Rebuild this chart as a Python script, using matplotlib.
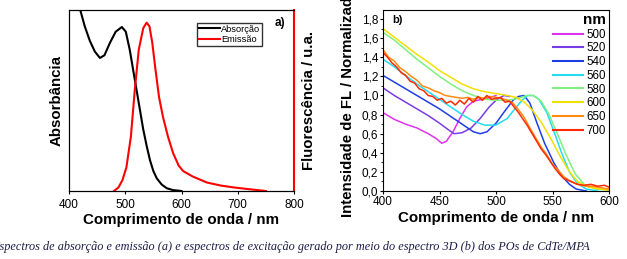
import matplotlib
matplotlib.use('Agg')
import matplotlib.pyplot as plt

plt.rcParams['font.family'] = ['Liberation Sans', 'DejaVu Sans']

# painel a) absorcao e emissao
abs_wl = [405, 412, 420, 428, 437, 446, 455, 463, 473, 483, 494, 501, 508, 514, 520, 526, 532, 538, 544, 550, 556, 565, 574, 585, 600]
abs_y = [1.25, 1.12, 1.0, 0.91, 0.83, 0.77, 0.735, 0.75, 0.82, 0.88, 0.906, 0.88, 0.78, 0.67, 0.56, 0.45, 0.34, 0.25, 0.17, 0.11, 0.07, 0.035, 0.015, 0.005, 0.0]
em_wl = [480, 488, 495, 502, 510, 517, 524, 532, 538, 543, 548, 553, 560, 567, 576, 585, 595, 603, 620, 645, 670, 692, 720, 750]
em_y = [0.0, 0.02, 0.06, 0.13, 0.3, 0.56, 0.78, 0.9, 0.93, 0.91, 0.82, 0.69, 0.52, 0.41, 0.3, 0.21, 0.14, 0.11, 0.08, 0.047, 0.03, 0.02, 0.01, 0.0]

# painel b) espectros de excitacao
exc_labels = ['500', '520', '540', '560', '580', '600', '650', '700']
exc_colors = ['#dd33ee', '#7a3ce6', '#1e3fe6', '#22dcf0', '#80f080', '#f2e000', '#ff8a10', '#ff2a00']
exc_wl = [
    [400, 410, 420, 430, 440, 447, 452, 456, 462, 468, 474, 480, 488, 495, 500],
    [400, 410, 420, 430, 440, 450, 458, 463, 470, 478, 486, 494, 500, 507, 512],
    [400, 410, 420, 430, 440, 450, 460, 470, 480, 486, 492, 500, 508, 515, 520, 525, 530, 536, 543, 551, 558, 565, 571, 580],
    [400, 410, 420, 430, 440, 450, 460, 470, 480, 490, 500, 510, 518, 524, 528, 533, 538, 545, 552, 558, 565, 572, 580, 590],
    [400, 410, 420, 430, 440, 450, 460, 470, 480, 490, 500, 510, 520, 527, 533, 540, 547, 555, 562, 570, 578, 588, 600],
    [400, 410, 420, 430, 440, 450, 460, 470, 480, 490, 500, 510, 518, 525, 532, 540, 548, 556, 564, 572, 582, 592, 600],
    [400, 405, 410, 415, 420, 425, 430, 435, 440, 445, 450, 455, 460, 465, 470, 475, 480, 485, 490, 495, 500, 505, 510, 515, 520, 525, 530, 535, 540, 545, 550, 555, 560, 565, 570, 575, 580, 585, 590, 595, 600],
    [400, 404, 408, 412, 416, 420, 424, 428, 432, 436, 440, 444, 448, 452, 456, 460, 464, 468, 472, 476, 480, 484, 488, 492, 496, 500, 504, 508, 512, 516, 520, 524, 528, 532, 536, 540, 544, 548, 552, 556, 560, 566, 572, 578, 584, 590, 596, 600],
]
exc_y = [
    [0.82, 0.75, 0.70, 0.66, 0.60, 0.55, 0.50, 0.52, 0.62, 0.76, 0.88, 0.94, 0.96, 0.98, 1.0],
    [1.08, 1.0, 0.93, 0.86, 0.79, 0.71, 0.64, 0.60, 0.61, 0.66, 0.76, 0.88, 0.95, 1.0, 0.99],
    [1.21, 1.14, 1.07, 1.0, 0.93, 0.86, 0.78, 0.70, 0.62, 0.60, 0.62, 0.71, 0.84, 0.95, 0.99, 1.0, 0.92, 0.72, 0.50, 0.30, 0.16, 0.07, 0.02, 0.0],
    [1.38, 1.30, 1.21, 1.12, 1.04, 0.96, 0.88, 0.80, 0.73, 0.69, 0.69, 0.76, 0.88, 0.96, 1.0, 1.0, 0.96, 0.82, 0.60, 0.40, 0.20, 0.08, 0.02, 0.0],
    [1.66, 1.58, 1.48, 1.38, 1.29, 1.20, 1.12, 1.05, 1.0, 0.96, 0.95, 0.95, 0.97, 1.0, 1.0, 0.94, 0.80, 0.58, 0.38, 0.18, 0.07, 0.02, 0.01],
    [1.70, 1.61, 1.52, 1.43, 1.35, 1.26, 1.19, 1.12, 1.07, 1.04, 1.02, 1.0, 0.98, 0.93, 0.85, 0.72, 0.56, 0.38, 0.22, 0.10, 0.04, 0.02, 0.01],
    [1.48, 1.40, 1.36, 1.29, 1.25, 1.20, 1.16, 1.10, 1.08, 1.05, 1.03, 1.0, 0.99, 0.98, 0.97, 0.98, 0.96, 0.98, 0.97, 0.99, 0.98, 0.97, 0.95, 0.92, 0.85, 0.77, 0.66, 0.56, 0.46, 0.38, 0.28, 0.22, 0.15, 0.11, 0.08, 0.06, 0.05, 0.05, 0.04, 0.03, 0.02],
    [1.45, 1.40, 1.34, 1.30, 1.24, 1.21, 1.15, 1.13, 1.07, 1.05, 1.0, 0.99, 0.95, 0.97, 0.92, 0.94, 0.90, 0.95, 0.91, 0.97, 0.93, 0.99, 0.95, 1.0, 0.96, 0.97, 0.98, 0.93, 0.94, 0.88, 0.82, 0.75, 0.68, 0.60, 0.52, 0.44, 0.38, 0.31, 0.24, 0.18, 0.13, 0.10, 0.07, 0.06, 0.07, 0.05, 0.06, 0.04],
]

fig = plt.figure(figsize=(6.27, 2.59), dpi=100)

# painel a
ax1 = fig.add_axes([69/627, 1-191/259, 225/627, 181/259])
ax1.plot(abs_wl, abs_y, color='black', lw=1.5, label='Absorção')
ax1.set_xlim(400, 800)
ax1.set_ylim(0, 1.0)
ax1.set_yticks([])
ax1.set_xticks([400, 500, 600, 700, 800])
ax1.tick_params(labelsize=8.5, length=2)
ax1.set_xlabel('Comprimento de onda / nm', fontsize=10.9, fontweight='bold', labelpad=2)
ax1.set_ylabel('Absorbância', fontsize=10.8, fontweight='bold', labelpad=4)
ax1.spines['right'].set_visible(False)
ax2 = ax1.twinx()
ax2.plot(em_wl, em_y, color='red', lw=1.5, label='Emissão')
ax2.set_ylim(0, 1.0)
ax2.set_yticks([])
ax2.spines['right'].set_color('red')
ax2.spines['right'].set_linewidth(1.5)
ax2.set_ylabel('Fluorescência / u.a.', fontsize=10.8, fontweight='bold', labelpad=6)
h1, l1 = ax1.get_legend_handles_labels()
h2, l2 = ax2.get_legend_handles_labels()
ax1.legend(h1 + h2, l1 + l2, loc='upper left', bbox_to_anchor=(0.57, 0.93), fontsize=6.7,
           frameon=True, fancybox=False, edgecolor='black', handlelength=2.2, borderpad=0.2,
           labelspacing=0.2, handletextpad=0.2, borderaxespad=0)
ax1.text(0.96, 0.96, 'a)', transform=ax1.transAxes, ha='right', va='top', fontsize=8.5, fontweight='bold')

# painel b
ax3 = fig.add_axes([383/627, 1-191/259, 226/627, 181/259])
for i in range(len(exc_labels)):
    ax3.plot(exc_wl[i], exc_y[i], color=exc_colors[i], lw=1.1, label=exc_labels[i])
ax3.set_xlim(400, 600)
ax3.set_ylim(0, 1.895)
ax3.set_xticks([400, 450, 500, 550, 600])
ax3.set_yticks([0, 0.2, 0.4, 0.6, 0.8, 1.0, 1.2, 1.4, 1.6, 1.8])
ax3.set_yticklabels(['0,0', '0,2', '0,4', '0,6', '0,8', '1,0', '1,2', '1,4', '1,6', '1,8'])
ax3.set_yticks([0.1, 0.3, 0.5, 0.7, 0.9, 1.1, 1.3, 1.5, 1.7], minor=True)
ax3.tick_params(labelsize=8.5, length=2, pad=1.5)
ax3.tick_params(which='minor', length=1.5)
ax3.set_xlabel('Comprimento de onda / nm', fontsize=10.9, fontweight='bold', labelpad=2)
ax3.text(0.04, 0.97, 'b)', transform=ax3.transAxes, ha='left', va='top', fontsize=8, fontweight='bold')
leg = ax3.legend(loc='upper right', title='nm', fontsize=8.3, frameon=False, handlelength=2.6,
                 labelspacing=0.15, handletextpad=0.3, borderaxespad=0.15, borderpad=0.1,
                 alignment='right')
leg.get_title().set_fontweight('bold')
leg.get_title().set_fontsize(11)
for line in leg.get_lines():
    line.set_linewidth(1.5)

fig.text(348/627, 1-217/259, 'Intensidade de FL / Normalizada (u.a.)', rotation=90,
         ha='center', va='bottom', fontsize=10.8, fontweight='bold')

fig.text(-0.012, 1-247/259, 'Espectros de absorção e emissão (a) e espectros de excitação gerado por meio do espectro 3D (b) dos POs de CdTe/MPA',
         family='Liberation Serif', style='italic', fontsize=8.8, color='#1c1c4a', ha='left', va='center')

fig.savefig('out.png', dpi=100)
